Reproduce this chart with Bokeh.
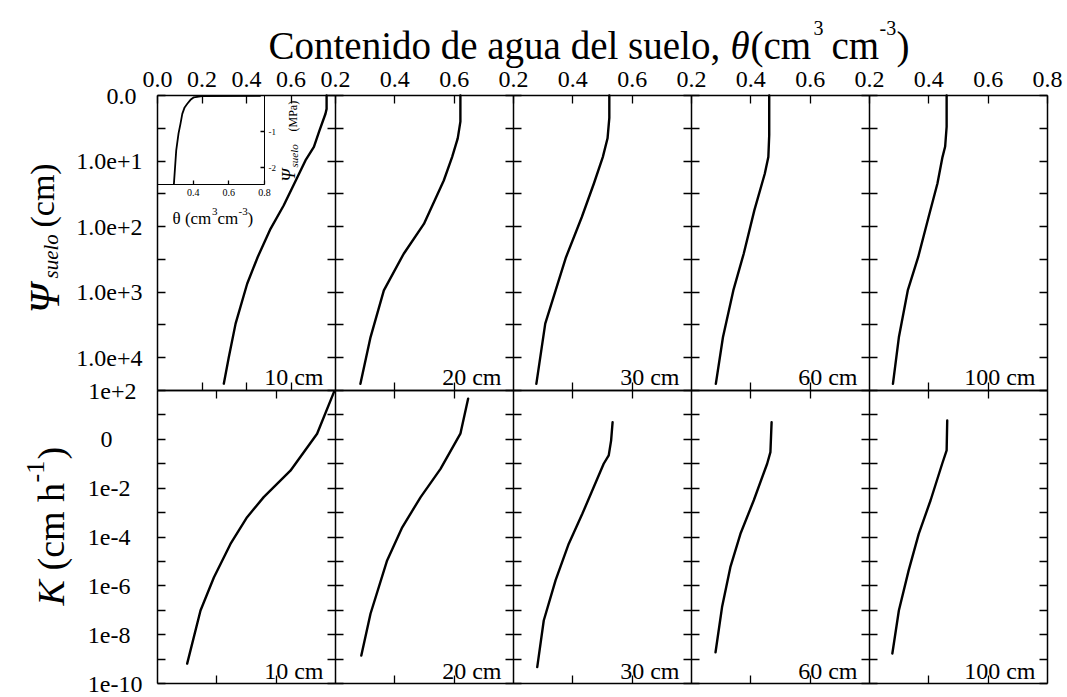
import math

from bokeh.plotting import figure
from bokeh.models import (Range1d, LinearScale, LogScale, LinearAxis, FixedTicker,
                          NumeralTickFormatter, Label)
from bokeh.embed import file_html
from bokeh.resources import INLINE

# ------------------------------------------------------------------ data
depths = ["10 cm", "20 cm", "30 cm", "60 cm", "100 cm"]

# water retention: soil water content (cm3 cm-3) vs soil suction (cm)
ret_theta_10 = [0.760, 0.760, 0.755, 0.727, 0.703, 0.665, 0.615, 0.567, 0.508, 0.450, 0.403, 0.351, 0.320, 0.298]
ret_psi_10 = [1.0, 1.6, 1.9, 3.5, 6.1, 9.8, 22, 47.6, 108, 293, 743, 3020, 10000, 24900]
ret_theta_20 = [0.621, 0.621, 0.612, 0.593, 0.565, 0.498, 0.430, 0.363, 0.318, 0.284]
ret_psi_20 = [1.0, 2.5, 4.5, 8.7, 19.8, 91, 259, 940, 4880, 25000]
ret_theta_30 = [0.523, 0.523, 0.517, 0.501, 0.471, 0.430, 0.377, 0.342, 0.307, 0.277]
ret_psi_30 = [1.0, 2.2, 4.5, 8.7, 22, 72, 293, 940, 3020, 25000]
ret_theta_60 = [0.462, 0.462, 0.459, 0.447, 0.412, 0.376, 0.341, 0.306, 0.282]
ret_psi_60 = [1.0, 4.0, 8.7, 15.6, 56, 259, 940, 4880, 25000]
ret_theta_100 = [0.460, 0.460, 0.455, 0.446, 0.429, 0.399, 0.364, 0.329, 0.299, 0.279]
ret_psi_100 = [1.0, 3.0, 6.0, 8.7, 22, 72, 293, 940, 4880, 25000]

# hydraulic conductivity (cm h-1) vs soil water content
k_theta_10 = [0.300, 0.345, 0.390, 0.446, 0.502, 0.558, 0.648, 0.738, 0.795]
k_val_10 = [6.5e-10, 9.8e-8, 2.2e-6, 5.2e-5, 6.5e-4, 4.3e-3, 5.2e-2, 1.7, 88]
k_theta_20 = [0.287, 0.318, 0.374, 0.425, 0.487, 0.554, 0.621, 0.647]
k_val_20 = [1.4e-9, 7.2e-8, 1.1e-5, 2.5e-4, 4.3e-3, 6.2e-2, 1.7, 46]
k_theta_30 = [0.280, 0.302, 0.342, 0.386, 0.432, 0.504, 0.521, 0.529, 0.534]
k_val_30 = [4.7e-10, 3.8e-8, 1.7e-6, 5.2e-5, 8.9e-4, 0.10, 0.22, 0.89, 5.0]
k_theta_60 = [0.281, 0.303, 0.331, 0.365, 0.410, 0.455, 0.466, 0.470]
k_val_60 = [1.9e-9, 1.35e-7, 5.8e-6, 1.35e-4, 3.2e-3, 0.10, 0.30, 5.0]
k_theta_100 = [0.277, 0.299, 0.332, 0.366, 0.406, 0.445, 0.460, 0.462]
k_val_100 = [1.7e-9, 9.8e-8, 4.3e-6, 1.35e-4, 3.2e-3, 0.10, 0.35, 5.9]

# inset: 10 cm retention curve in MPa
inset_theta = [0.292, 0.305, 0.318, 0.329, 0.339, 0.352, 0.367, 0.385, 0.404, 0.450, 0.779]
inset_psi_mpa = [-2.45, -1.52, -1.05, -0.78, -0.51, -0.33, -0.23, -0.12, -0.05, -0.02, -0.01]

# axes
top_xlims = [(0.0, 0.8), (0.2, 0.8), (0.2, 0.8), (0.2, 0.8), (0.2, 0.8)]
bot_xlims = [(0.2, 0.8), (0.2, 0.8), (0.2, 0.8), (0.2, 0.8), (0.2, 0.8)]
theta_grid = [0.0, 0.2, 0.4, 0.6, 0.8]
top_label_ticks = [[0.0, 0.2, 0.4, 0.6], [0.2, 0.4, 0.6], [0.2, 0.4, 0.6],
                   [0.2, 0.4, 0.6], [0.2, 0.4, 0.6, 0.8]]
psi_top, psi_bottom = 1.0, 10 ** 4.5
psi_major = [1.0, 10.0, 100.0, 1000.0, 10000.0]
psi_labels = ["0.0", "1.0e+1", "1.0e+2", "1.0e+3", "1.0e+4"]
psi_minor = [10 ** 0.5, 10 ** 1.5, 10 ** 2.5, 10 ** 3.5]
k_lims = (1e-10, 1e2)
k_major = [1e2, 1.0, 1e-2, 1e-4, 1e-6, 1e-8, 1e-10]
k_labels = ["1e+2", "0", "1e-2", "1e-4", "1e-6", "1e-8", "1e-10"]
k_minor = [1e1, 1e-1, 1e-3, 1e-5, 1e-7, 1e-9]
inset_xlims = (0.2, 0.8)
inset_ylims = (-2.45, 0.0)
inset_xticks = [0.4, 0.6, 0.8]
inset_yticks = [-1.0, -2.0]
inset_ylabels = ["-1", "-2"]

retention = [(ret_theta_10, ret_psi_10), (ret_theta_20, ret_psi_20), (ret_theta_30, ret_psi_30),
             (ret_theta_60, ret_psi_60), (ret_theta_100, ret_psi_100)]
conductivity = [(k_theta_10, k_val_10), (k_theta_20, k_val_20), (k_theta_30, k_val_30),
                (k_theta_60, k_val_60), (k_theta_100, k_val_100)]

# ------------------------------------------------------------------ layout
W, H = 1067, 697                        # whole drawing area (the plot frame)
FL, FT = 157, 95                        # top-left corner of the panel block
NP = 5                                  # panels per row
PW = 178                                # panel width
TOP_H, BOT_H = 295, 293                 # row heights
ROW_SPLIT = FT + TOP_H                  # y of the boundary between rows
ROW_END = ROW_SPLIT + BOT_H
INSET_W, INSET_H = 107, 88.5            # inset box size
TICK = 8
FONT = "Liberation Serif"
LINE_W = 2.4
NBSP = "\u00a0"


def x_slot(lo, hi, a, b):
    """Linear range placing [lo, hi] between pixel columns a and b."""
    s = (hi - lo) / (b - a)
    return Range1d(start=lo - a * s, end=hi + (W - b) * s)


x_ranges = {}
for k in range(NP):
    a, b = FL + k * PW, FL + (k + 1) * PW
    x_ranges[f"t{k}"] = x_slot(*top_xlims[k], a, b)
    x_ranges[f"b{k}"] = x_slot(*bot_xlims[k], a, b)
x_ranges["inx"] = x_slot(*inset_xlims, FL, FL + INSET_W)

# suction grows downward through the top row
lp0, lp1 = math.log10(psi_top), math.log10(psi_bottom)
sp = (lp1 - lp0) / TOP_H
psi_range = Range1d(start=10 ** (lp1 + (H - ROW_SPLIT) * sp), end=10 ** (lp0 - FT * sp))
# conductivity grows upward through the bottom row
lk0, lk1 = math.log10(k_lims[0]), math.log10(k_lims[1])
sk = (lk1 - lk0) / BOT_H
k_range = Range1d(start=10 ** (lk0 - (H - ROW_END) * sk), end=10 ** (lk1 + ROW_SPLIT * sk))
# inset pressure axis (MPa), zero at the top of the block
si = (inset_ylims[1] - inset_ylims[0]) / INSET_H
inset_y = Range1d(start=inset_ylims[0] - (H - FT - INSET_H) * si, end=inset_ylims[1] + FT * si)

p = figure(frame_width=W, frame_height=H, x_range=x_ranges["t0"], y_range=psi_range,
           y_axis_type="log", x_axis_location=None, y_axis_location=None,
           toolbar_location=None, output_backend="svg", min_border=0)
p.extra_x_ranges = dict(x_ranges)
p.extra_x_scales = {name: LinearScale() for name in x_ranges}
p.extra_y_ranges = {"psi": psi_range, "kr": k_range, "iny": inset_y}
p.extra_y_scales = {"psi": LogScale(), "kr": LogScale(), "iny": LinearScale()}
p.grid.visible = False
p.outline_line_color = None
p.background_fill_color = "white"
p.border_fill_color = "white"


def add_axis(side, xname, yname, loc, ticks, bounds, minor=(), tin=TICK, tout=0,
             labels=None, fmt=None, size="24px", standoff=8, line_width=1.5):
    ax = LinearAxis(x_range_name=xname, y_range_name=yname, fixed_location=loc,
                    bounds=bounds,
                    ticker=FixedTicker(ticks=list(ticks), minor_ticks=list(minor)))
    ax.axis_line_color = "black"
    ax.axis_line_width = line_width
    ax.major_tick_in, ax.major_tick_out = tin, tout
    ax.minor_tick_in, ax.minor_tick_out = tin, tout
    ax.major_tick_line_color = "black"
    ax.minor_tick_line_color = "black"
    ax.major_tick_line_width = 1.3
    ax.minor_tick_line_width = 1.3
    ax.major_label_text_font = FONT
    ax.major_label_text_font_size = size
    ax.major_label_text_color = "black"
    ax.major_label_standoff = standoff
    if fmt is not None:
        ax.formatter = fmt
    if labels is not None:
        ax.major_label_overrides = dict(zip(ticks, labels))
    elif fmt is None:
        ax.major_label_text_color = None
    p.add_layout(ax, side)
    return ax


def left_flush(labels):
    """Pad right-aligned tick labels so that they start on a common left edge."""
    widest = max(len(s) for s in labels)
    out = []
    for s in labels:
        if s == "0":
            out.append(s + NBSP * 5)
        else:
            out.append(s + NBSP * max(0, 2 * (widest - len(s)) - (1 if "+" in s else 0)))
    return out


psi_bounds = (psi_top, psi_bottom)

# ---- top row: retention curves
for k in range(NP):
    lo, hi = top_xlims[k]
    name = f"t{k}"
    inner = [t for t in theta_grid if lo + 1e-9 < t < hi - 1e-9]
    add_axis("above", name, "psi", psi_top, top_label_ticks[k], (lo, hi),
             fmt=NumeralTickFormatter(format="0.0"), standoff=9)
    add_axis("below", name, "psi", psi_bottom, inner, (lo, hi))
    if k == 0:
        add_axis("left", name, "psi", lo, psi_major, psi_bounds, psi_minor,
                 labels=[psi_labels[0] + NBSP] + psi_labels[1:], standoff=15)
    else:
        add_axis("left", name, "psi", lo, psi_major, psi_bounds, psi_minor, tout=TICK)
    if k == NP - 1:
        add_axis("right", name, "psi", hi, psi_major, psi_bounds, psi_minor)
    th, ps = retention[k]
    p.line(th, ps, x_range_name=name, y_range_name="psi", line_color="black",
           line_width=LINE_W, line_join="round", line_cap="round")

# ---- bottom row: conductivity curves
for k in range(NP):
    lo, hi = bot_xlims[k]
    name = f"b{k}"
    inner = [t for t in theta_grid if lo + 1e-9 < t < hi - 1e-9]
    add_axis("above", name, "kr", k_lims[1], inner, (lo, hi))
    add_axis("below", name, "kr", k_lims[0], inner, (lo, hi))
    if k == 0:
        add_axis("left", name, "kr", lo, k_major, k_lims, k_minor,
                 labels=left_flush(k_labels), standoff=15)
    else:
        add_axis("left", name, "kr", lo, k_major, k_lims, k_minor, tout=TICK)
    if k == NP - 1:
        add_axis("right", name, "kr", hi, k_major, k_lims, k_minor)
    th, kv = conductivity[k]
    p.line(th, kv, x_range_name=name, y_range_name="kr", line_color="black",
           line_width=LINE_W, line_join="round", line_cap="round")

# ---- inset (10 cm retention in MPa)
p.quad(left=[inset_xlims[0]], right=[inset_xlims[1]], bottom=[inset_ylims[0]], top=[inset_ylims[1]],
       x_range_name="inx", y_range_name="iny", fill_color="white", line_color=None)
p.line(inset_theta, inset_psi_mpa, x_range_name="inx", y_range_name="iny",
       line_color="black", line_width=1.8, line_join="round")
add_axis("right", "inx", "iny", inset_xlims[1], inset_yticks, inset_ylims, tin=4,
         labels=inset_ylabels, size="9px", standoff=4, line_width=1)
add_axis("below", "inx", "iny", inset_ylims[0], inset_xticks, inset_xlims, tin=4,
         fmt=NumeralTickFormatter(format="0.0"), size="10px", standoff=5, line_width=1)


# ---- texts (canvas coordinates, y measured from the top)
def put(text, X, Y, size, italic=False, align="left", angle=0.0):
    p.add_layout(Label(x=X, y=H - Y, x_units="screen", y_units="screen",
                       text=text, text_font=FONT, text_font_size=f"{size}px",
                       text_font_style="italic" if italic else "normal",
                       text_color="black", text_align=align,
                       text_baseline="alphabetic", angle=angle))


UP = math.pi / 2

put("Contenido de agua del suelo,", 268, 45, 39)
put("θ", 730, 45, 39, italic=True)
put("(cm", 750, 45, 39)
put("3", 813, 27, 20)
put("cm", 831, 45, 39)
put("-3", 879, 27, 20)
put(")", 896, 45, 39)

put("Ψ", 44, 313, 42, italic=True, angle=UP)
put("suelo", 50, 278, 21, italic=True, angle=UP)
put("(cm)", 42, 227, 34, angle=UP)

put("K", 50, 605, 38, italic=True, angle=UP)
put("(cm h", 50, 570, 38, angle=UP)
put("-1", 35, 482, 26, angle=UP)
put(")", 50, 459, 38, angle=UP)

put("θ (cm", 172, 218, 17)
put("3", 211.5, 211, 11)
put("cm", 217, 218, 17)
put("-3", 238, 211, 11)
put(")", 247, 218, 17)
put("Ψ", 288, 181, 18, italic=True, angle=UP)
put("suelo", 293, 167, 11, italic=True, angle=UP)
put("(MPa)", 292, 131, 12, angle=UP)

for k in range(NP):
    right = FL + (k + 1) * PW - 12
    put(depths[k], right, 376, 24, align="right")
    put(depths[k], right, 670, 24, align="right")

open("out.html", "w").write(file_html(p, INLINE))
